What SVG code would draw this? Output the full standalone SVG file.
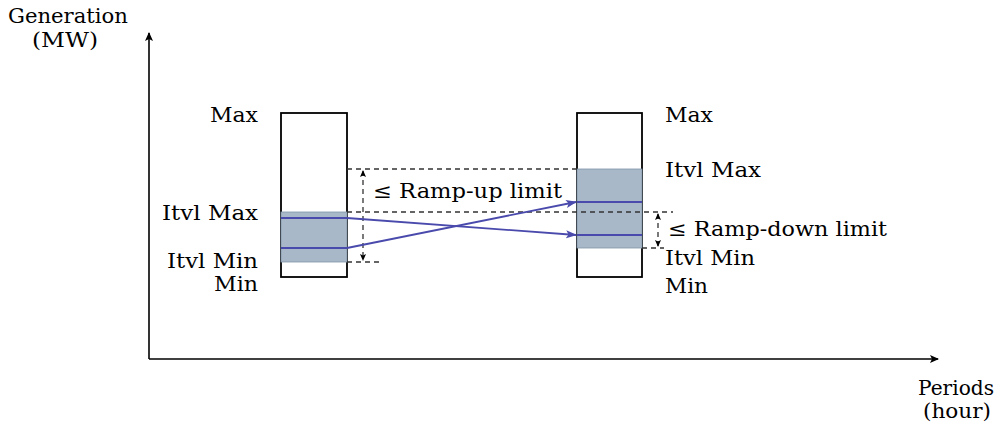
<svg xmlns="http://www.w3.org/2000/svg" width="1007" height="432" viewBox="0 0 1007 432">
<style>
.t{font-family:"DejaVu Serif","Liberation Serif",serif;font-size:20px;fill:#000}
.axis{stroke:#000;stroke-width:1.6;fill:none}
.box{stroke:#000;stroke-width:1.8;fill:#fff}
.shade{fill:#a8b8c8;stroke:#7f93a8;stroke-width:0.8}
.dash{stroke:#333;stroke-width:1.3;stroke-dasharray:5,4;fill:none}
.blue{stroke:#4a4aad;stroke-width:1.8;fill:none}
.r{text-anchor:end}
</style>
<defs>
<marker id="ax" markerWidth="10" markerHeight="10" refX="8" refY="5" orient="auto" markerUnits="userSpaceOnUse">
<path d="M0,1 L9,5 L0,9 L2,5 Z" fill="#000"/>
</marker>
<marker id="bl" markerWidth="12" markerHeight="10" refX="10" refY="5" orient="auto" markerUnits="userSpaceOnUse">
<path d="M0,1 L11,5 L0,9 L2.5,5 Z" fill="#4a4aad"/>
</marker>
<marker id="sm" markerWidth="8" markerHeight="8" refX="6" refY="4" orient="auto" markerUnits="userSpaceOnUse">
<path d="M0,1 L7,4 L0,7 L1.5,4 Z" fill="#000"/>
</marker>
<marker id="sms" markerWidth="8" markerHeight="8" refX="1" refY="4" orient="auto" markerUnits="userSpaceOnUse">
<path d="M7,1 L0,4 L7,7 L5.5,4 Z" fill="#000"/>
</marker>
</defs>
<g id="axes">
<line class="axis" x1="149" y1="359" x2="149" y2="33" marker-end="url(#ax)"/>
<line class="axis" x1="149" y1="359" x2="938" y2="359" marker-end="url(#ax)"/>
<g class="t">
<text x="68" y="23" text-anchor="middle" textLength="120" lengthAdjust="spacingAndGlyphs">Generation</text>
<text x="65" y="47" text-anchor="middle" textLength="66" lengthAdjust="spacingAndGlyphs">(MW)</text>
<text x="956" y="395" text-anchor="middle" textLength="76" lengthAdjust="spacingAndGlyphs">Periods</text>
<text x="957" y="418" text-anchor="middle" textLength="68" lengthAdjust="spacingAndGlyphs">(hour)</text>
</g>
</g>
<g id="node-left">
<rect class="box" x="281" y="113" width="66" height="164"/>
<rect class="shade" x="281" y="212" width="66" height="50"/>
<line class="blue" x1="281" y1="218" x2="347" y2="218"/>
<line class="blue" x1="281" y1="248" x2="347" y2="248"/>
<g class="t">
<text class="r" x="258" y="122" textLength="48" lengthAdjust="spacingAndGlyphs">Max</text>
<text class="r" x="258" y="220" textLength="96" lengthAdjust="spacingAndGlyphs">Itvl Max</text>
<text class="r" x="258" y="268" textLength="91" lengthAdjust="spacingAndGlyphs">Itvl Min</text>
<text class="r" x="258" y="291" textLength="44" lengthAdjust="spacingAndGlyphs">Min</text>
</g>
</g>
<g id="node-right">
<rect class="box" x="577" y="113" width="65" height="164"/>
<rect class="shade" x="577" y="169" width="65" height="79"/>
<line class="blue" x1="577" y1="202" x2="642" y2="202"/>
<line class="blue" x1="577" y1="235" x2="642" y2="235"/>
<g class="t">
<text x="665" y="122" textLength="48" lengthAdjust="spacingAndGlyphs">Max</text>
<text x="665" y="177" textLength="96" lengthAdjust="spacingAndGlyphs">Itvl Max</text>
<text x="665" y="265" textLength="90" lengthAdjust="spacingAndGlyphs">Itvl Min</text>
<text x="665" y="293" textLength="43" lengthAdjust="spacingAndGlyphs">Min</text>
</g>
</g>
<g id="connectors">
<line class="dash" x1="347" y1="169" x2="577" y2="169"/>
<line class="dash" x1="347" y1="212" x2="673" y2="212"/>
<line class="dash" x1="347" y1="262" x2="381" y2="262"/>
<line class="dash" x1="642" y1="248" x2="664" y2="248"/>
<line class="dash" x1="363" y1="171" x2="363" y2="260" marker-start="url(#sms)" marker-end="url(#sm)"/>
<line class="dash" x1="658" y1="214" x2="658" y2="246" marker-start="url(#sms)" marker-end="url(#sm)"/>
<line class="blue" x1="347" y1="218" x2="576" y2="235" marker-end="url(#bl)"/>
<line class="blue" x1="347" y1="248" x2="576" y2="202" marker-end="url(#bl)"/>
<g class="t">
<text x="373" y="198" textLength="189" lengthAdjust="spacingAndGlyphs">≤ Ramp-up limit</text>
<text x="668" y="236" textLength="219" lengthAdjust="spacingAndGlyphs">≤ Ramp-down limit</text>
</g>
</g>
</svg>
